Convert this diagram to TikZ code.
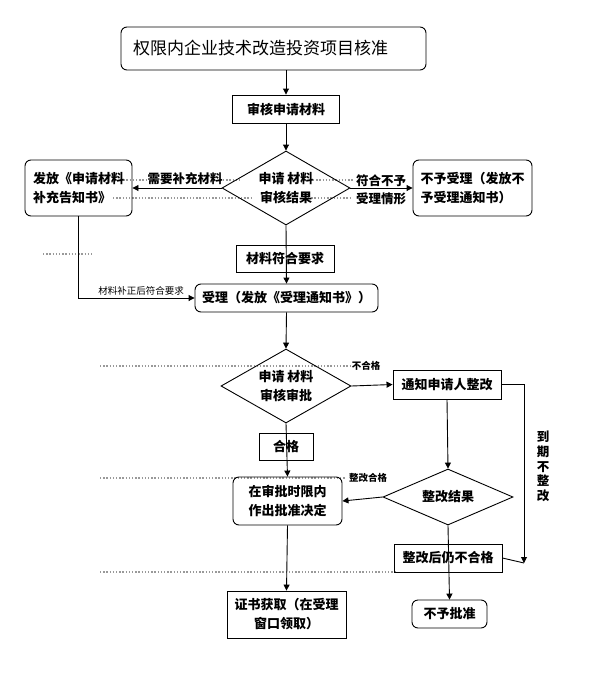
\documentclass[tikz,border=0pt]{standalone}
\usepackage{fontspec}
\setmainfont{Noto Sans CJK SC}
\usetikzlibrary{shapes.geometric,arrows.meta}

\tikzset{
  flow/.style={line width=0.9pt, -{Triangle[length=6pt,width=6pt]}},
  box/.style={draw, line width=0.9pt, inner sep=0pt, align=center,
    font=\bfseries\fontsize{13}{19}\selectfont},
  rbox/.style={box, rounded corners=6pt},
  choice/.style={draw, diamond, line width=0.9pt, inner sep=0pt, aspect=1.7, align=center,
    font=\bfseries\fontsize{13}{19}\selectfont},
  tag/.style={inner sep=0pt, font=\bfseries\fontsize{12.5}{18}\selectfont},
  smalltag/.style={inner sep=0pt, font=\bfseries\fontsize{9.5}{11}\selectfont},
  leader/.style={gray!80, line width=1.3pt, dash pattern=on 1.3pt off 1.9pt},
}

\begin{document}
\begin{tikzpicture}[x=1pt, y=-1pt]
  \useasboundingbox (0,0) rectangle (590,693);

  % tab leaders of the page
  \draw[leader] (120,180) -- (146,180) (223,180) -- (240,180) (313,180) -- (353,180);
  \draw[leader] (113,198) -- (253,198) (308,198) -- (352,198);
  \draw[leader] (43,254) -- (93,254);
  \draw[leader] (100,366) -- (352,366);
  \draw[leader] (100,478) -- (346,478);
  \draw[leader] (100,572) -- (397,572);

  % steps
  \node[rbox, minimum width=305pt, minimum height=43pt, text width=281pt, align=left,
    font=\fontsize{17}{20}\selectfont] (title) at (273.5,48.5) {权限内企业技术改造投资项目核准};
  \node[box, minimum width=107pt, minimum height=28pt] (check) at (286,109) {审核申请材料};
  \node[choice, minimum width=128pt, minimum height=74pt] (res1) at (286,188) {申请 材料\\审核结果};
  \node[rbox, minimum width=107pt, minimum height=56pt, align=left] (supp) at (78.5,188) {发放《申请材料\\补充告知书》};
  \node[rbox, minimum width=119pt, minimum height=56pt, align=left] (refuse) at (472.5,188) {不予受理（发放不\\予受理通知书）};
  \node[rbox, minimum width=183pt, minimum height=28pt] (accept) at (286.5,298) {受理（发放《受理通知书》）};
  \node[choice, minimum width=130pt, minimum height=74pt] (res2) at (286,386) {申请 材料\\审核审批};
  \node[box, minimum width=108pt, minimum height=29pt] (notify) at (447,384.5) {通知申请人整改};
  \node[choice, minimum width=130pt, minimum height=56pt] (res3) at (448,497) {整改结果};
  \node[rbox, minimum width=109pt, minimum height=48pt] (decide) at (287.5,501) {在审批时限内\\作出批准决定};
  \node[box, minimum width=119pt, minimum height=47pt] (cert) at (286.5,614.5) {证书获取（在受理\\窗口领取）};
  \node[rbox, minimum width=75pt, minimum height=28pt] (deny) at (449.5,614) {不予批准};
  \node[box, minimum width=108pt, minimum height=28pt] (fail) at (448,558) {整改后仍不合格};
  \coordinate (late) at (524,563);

  % connectors
  \draw[flow] (title.south -| check) -- (check.north);
  \draw[flow] (check.south) -- (res1.north);
  \draw[flow] (res1.west) -- (supp.east);
  \draw[flow] (res1.east) -- (refuse.west);
  \draw[flow] (res1.south) -- (accept.north);
  \draw[flow] (supp.south) |- (accept.west);
  \draw[flow] (accept.south) -- (res2.north);
  \draw[flow] (res2.east) -- (notify.west);
  \draw[flow] (res2.south) -- (decide.north);
  \draw[flow] (notify.south) -- (res3.north);
  \draw[flow] (res3.west) -- (decide.east);
  \draw[flow] (decide.south) -- (cert.north);
  \draw[flow] (res3.south) -- (deny.north);
  \draw[flow] (notify.east) -| (late);
  \draw[line width=0.9pt] (fail.east) -- (late);

  % labels on the lines
  \node[box, minimum width=98pt, minimum height=27pt] (okreq) at (285,258.5) {材料符合要求};
  \node[box, minimum width=54pt, minimum height=27pt] (pass) at (286,446.5) {合格};
  \node[tag] (needmore) at (185,179) {需要补充材料};
  \node[tag] (nocase1) at (381,181) {符合不予};
  \node[tag] (nocase2) at (381,199) {受理情形};
  \node[smalltag, font=\fontsize{9.5}{11}\selectfont] (fixed) at (141,291) {材料补正后符合要求};
  \node[smalltag] (notok) at (366,366) {不合格};
  \node[smalltag] (fixok) at (368,478) {整改合格};
  \node[tag, align=center, font=\bfseries\fontsize{12.5}{14.8}\selectfont] (overdue) at (543,466.5) {到\\期\\不\\整\\改};
\end{tikzpicture}
\end{document}
